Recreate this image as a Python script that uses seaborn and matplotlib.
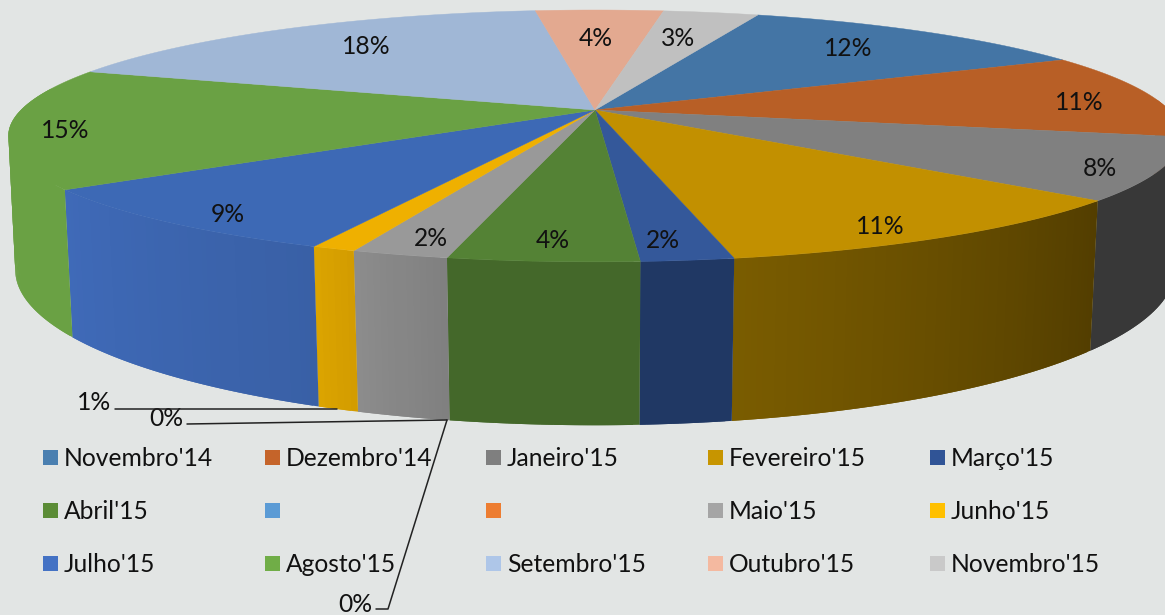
import numpy as np
import pandas as pd
import seaborn as sns
import matplotlib
matplotlib.use("Agg")
import matplotlib.pyplot as plt
from matplotlib.colors import to_rgb
from matplotlib.patches import Rectangle

# ---- data -------------------------------------------------------------
months = ["Novembro'14", "Dezembro'14", "Janeiro'15", "Fevereiro'15", "Março'15",
          "Abril'15", "", " ", "Maio'15", "Junho'15",
          "Julho'15", "Agosto'15", "Setembro'15", "Outubro'15", "Novembro'15"]
shares = [12.0, 10.9, 7.9, 10.6, 2.1, 4.3, 0.0, 0.0, 2.2, 1.0, 8.6, 15.4, 17.5, 4.3, 3.2]

legend_colors = ["#4a7fb0", "#c5642a", "#7f7f7f", "#c79500", "#305496",
                 "#5b8c36", "#5b9bd5", "#ed7d31", "#a5a5a5", "#ffc000",
                 "#4472c4", "#70ad47", "#aec6e8", "#f4b9a0", "#c9c9c9"]
top_colors = ["#4475a5", "#b85f26", "#808080", "#c29000", "#34589a",
              "#548235", "#5b9bd5", "#ed7d31", "#999999", "#efb000",
              "#3d69b5", "#6aa144", "#a0b7d6", "#e3a990", "#c0c0c0"]
side_start = ["#4475a5", "#b85f26", "#383838", "#533e00", "#203864",
              "#44682a", "#5b9bd5", "#ed7d31", "#808080", "#d39c00",
              "#3960a6", "#6aa144", "#a0b7d6", "#e3a990", "#c0c0c0"]
side_end = ["#4475a5", "#b85f26", "#383838", "#7a5c00", "#203864",
            "#44682a", "#5b9bd5", "#ed7d31", "#8c8c8c", "#dba400",
            "#3f6ab8", "#6aa144", "#a0b7d6", "#e3a990", "#c0c0c0"]

# percent labels: text, centre x, centre y (pixels)
pct_text = ["12%", "11%", "8%", "11%", "2%", "4%", "2%", "9%", "15%", "18%", "4%", "3%"]
pct_x = [848, 1079, 1100, 880, 663, 553, 431, 228, 65, 366, 596, 678]
pct_y = [49, 102, 168, 227, 240, 240, 238, 215, 131, 47, 38, 39]

df = pd.DataFrame({"month": months, "share": shares})
df["stop"] = df["share"].cumsum()
df["start"] = df["stop"] - df["share"]

# ---- projection -------------------------------------------------------
W, H = 1165, 615
BG = "#e2e5e4"
START = 19.8
CX = 595
FS = 17.7
INK = "#111111"


def project(deg, cy, rx, ry, k):
    a = np.radians(deg)
    u, v = np.sin(a), np.cos(a)
    den = 1 + k * v
    return CX + rx * u / den, cy - ry * v / den


def top(deg):
    return project(deg, 110, 574, 120.6, 0.206)


def bottom(deg):
    return project(deg, 239, 568, 149, 0.20)


sns.set_theme(style="white")
plt.rcParams["font.family"] = ["Lato", "DejaVu Sans"]
fig = plt.figure(figsize=(W / 100, H / 100), dpi=100, facecolor=BG)
ax = fig.add_axes([0, 0, 1, 1])
ax.set_xlim(0, W)
ax.set_ylim(H, 0)
ax.axis("off")

top_pal = sns.color_palette(top_colors)
leg_pal = sns.color_palette(legend_colors)

# side walls: each quad runs one step past its end, so the next one covers the seam
for i, row in df.iterrows():
    if row.share <= 0:
        continue
    a0 = START + row.start * 3.6
    a1 = START + row.stop * 3.6
    angles = np.linspace(a0, a1, max(4, int((a1 - a0) * 2)))
    c0, c1 = np.array(to_rgb(side_start[i])), np.array(to_rgb(side_end[i]))
    n = len(angles)
    for j in range(n - 1):
        mid = (angles[j] + angles[j + 1]) / 2
        if not 85 < mid < 280:
            continue
        t = j / max(1, n - 2)
        col = c0 + (c1 - c0) * t
        seg = angles[j:min(j + 3, n)]
        xt, yt = top(seg)
        xb, yb = bottom(seg)
        ax.fill(np.r_[xt, xb[::-1]], np.r_[yt, yb[::-1]], color=col, lw=0, zorder=2)

# top face
for i, row in df.iterrows():
    if row.share <= 0:
        continue
    a0 = START + row.start * 3.6
    a1 = START + row.stop * 3.6
    angles = np.linspace(a0, a1, max(4, int((a1 - a0) * 2)))
    x, y = top(angles)
    ax.fill(np.r_[CX, x], np.r_[110, y], color=top_pal[i], lw=0.3, zorder=3)

# percent labels
for s, x, y in zip(pct_text, pct_x, pct_y):
    ax.text(x, y, s, ha="center", va="center", fontsize=FS, color=INK, zorder=5)

# leader lines with their labels
ax.plot([115, 337], [409, 409], color="#222222", lw=1.1, zorder=4)
ax.plot([187, 447], [424, 420], color="#222222", lw=1.1, zorder=4)
ax.plot([376, 388, 447], [609, 609, 420], color="#222222", lw=1.1, zorder=4)
ax.text(94, 403, "1%", ha="center", va="center", fontsize=FS, color=INK)
ax.text(166, 419, "0%", ha="center", va="center", fontsize=FS, color=INK)
ax.text(355, 605, "0%", ha="center", va="center", fontsize=FS, color=INK)

# legend
col_x = [43, 265, 486, 708, 930]
row_y = [457, 510, 563]
for i, name in enumerate(months):
    lx = col_x[i % 5]
    ly = row_y[i // 5]
    ax.add_patch(Rectangle((lx, ly - 7.5), 15, 15, color=leg_pal[i], lw=0, zorder=4))
    ax.text(lx + 21, ly + 1.5, name.strip(), ha="left", va="center", fontsize=FS, color=INK, zorder=5)

fig.savefig("out.png", dpi=100, facecolor=BG)
